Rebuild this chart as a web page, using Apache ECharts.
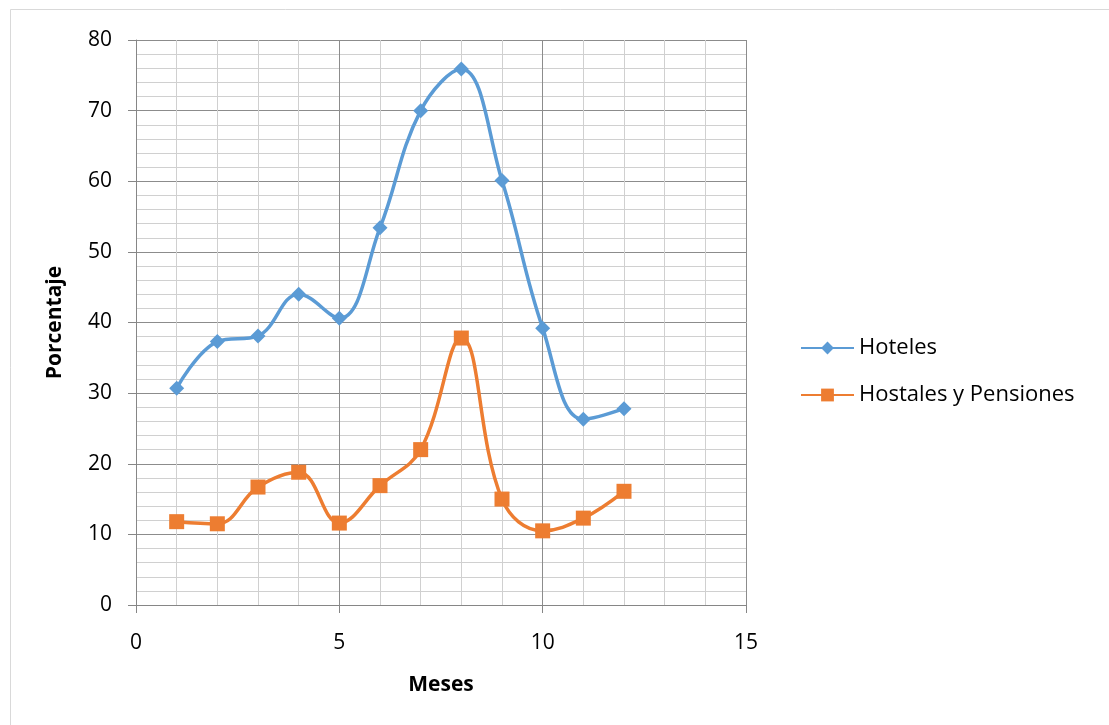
<!DOCTYPE html>
<html><head><meta charset="utf-8">
<script src="https://cdn.jsdelivr.net/npm/echarts@6/dist/echarts.min.js"></script>
<style>html,body{margin:0;padding:0;background:#fff}#c{width:1109px;height:725px}</style>
</head><body><div id="c"></div>
<script>
const months = [1,2,3,4,5,6,7,8,9,10,11,12];
const hoteles = [30.7,37.3,38.1,44.0,40.6,53.4,70.0,75.9,60.1,39.2,26.3,27.8];
const hostales = [11.8,11.5,16.7,18.8,11.6,16.9,22.0,37.8,15.0,10.5,12.3,16.1];
const seriesNames = ['Hoteles','Hostales y Pensiones'];
const xTitle = 'Meses';
const yTitle = 'Porcentaje';

const font = "'Open Sans', 'Noto Sans', sans-serif";
const chart = echarts.init(document.getElementById('c'), null, {renderer:'canvas'});
const pair = (xs, ys) => xs.map((x,i)=>[x, ys[i]]);
chart.setOption({
  animation:false,
  backgroundColor:'#fff',
  graphic:[{type:'rect', shape:{x:10.5,y:9.5,width:1200,height:800}, style:{fill:'none', stroke:'#d9d9d9', lineWidth:1}, silent:true}],
  grid:{left:136, right:363, top:40, bottom:120},
  legend:{
    orient:'vertical', left:800, top:337, padding:0, itemWidth:53, itemHeight:16, itemGap:25,
    textStyle:{fontFamily:font, fontSize:22, color:'#000'},
    data:seriesNames
  },
  xAxis:{
    type:'value', min:0, max:15, interval:5,
    name:xTitle, nameLocation:'middle', nameGap:70,
    nameTextStyle:{fontFamily:font, fontSize:21, fontWeight:'bold', color:'#000'},
    axisLine:{show:true, lineStyle:{color:'#868686', width:1}},
    axisTick:{show:true, length:8, lineStyle:{color:'#868686'}},
    axisLabel:{fontFamily:font, fontSize:21, color:'#000', margin:28},
    splitLine:{show:true, lineStyle:{color:'#8c8c8c', width:1}},
    minorTick:{show:false, splitNumber:5},
    minorSplitLine:{show:true, lineStyle:{color:'#d0d0d0', width:1}}
  },
  yAxis:{
    type:'value', min:0, max:80, interval:10,
    name:yTitle, nameLocation:'middle', nameGap:70,
    nameTextStyle:{fontFamily:font, fontSize:21, fontWeight:'bold', color:'#000'},
    axisLine:{show:true, lineStyle:{color:'#868686', width:1}},
    axisTick:{show:true, length:8, lineStyle:{color:'#868686'}},
    axisLabel:{fontFamily:font, fontSize:21, color:'#000', margin:24},
    splitLine:{show:true, lineStyle:{color:'#8c8c8c', width:1}},
    minorTick:{show:false, splitNumber:5},
    minorSplitLine:{show:true, lineStyle:{color:'#d0d0d0', width:1}}
  },
  series:[
    {name:seriesNames[0], type:'line', data:pair(months,hoteles), smooth:0.4,
     symbol:'diamond', symbolSize:15, color:'#5b9bd5',
     lineStyle:{width:3.5, color:'#5b9bd5'}, itemStyle:{color:'#5b9bd5'}},
    {name:seriesNames[1], type:'line', data:pair(months,hostales), smooth:0.4,
     symbol:'rect', symbolSize:15, color:'#ed7d31',
     lineStyle:{width:3.5, color:'#ed7d31'}, itemStyle:{color:'#ed7d31'}}
  ]
});
</script></body></html>
